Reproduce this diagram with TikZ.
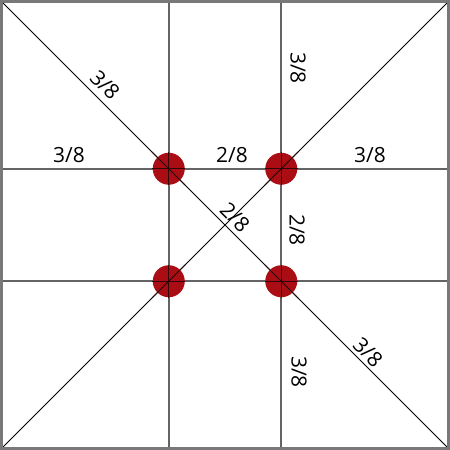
\documentclass[tikz,border=0pt]{standalone}
\usepackage{fontspec}
\setmainfont{Open Sans}
\definecolor{dotred}{RGB}{170,14,20}
\definecolor{gridgray}{RGB}{100,100,100}
\definecolor{framegray}{RGB}{120,120,120}
\begin{document}
\begin{tikzpicture}[x=1bp,y=-1bp,
  gridline/.style={draw=gridgray,line width=1.6bp},
  diagline/.style={draw=black,line width=1bp},
  frameline/.style={draw=framegray,line width=2.6bp},
  dot/.style={circle,fill=dotred,minimum size=32bp,inner sep=0pt},
  lbl/.style={font=\fontsize{21}{22}\selectfont,inner sep=0pt}]
\useasboundingbox (0,0) rectangle (450,450);
% corners
\coordinate (tl) at (0,0);
\coordinate (tr) at (450,0);
\coordinate (bl) at (0,450);
\coordinate (br) at (450,450);
\coordinate (t1) at (168.75,0);
\coordinate (t2) at (281.25,0);
\coordinate (b1) at (168.75,450);
\coordinate (b2) at (281.25,450);
\coordinate (l1) at (0,168.75);
\coordinate (l2) at (0,281.25);
\coordinate (r1) at (450,168.75);
\coordinate (r2) at (450,281.25);
% grid
\draw[gridline] (t1) -- (b1);
\draw[gridline] (t2) -- (b2);
\draw[gridline] (l1) -- (r1);
\draw[gridline] (l2) -- (r2);
% diagonals
\draw[diagline] (tl) -- (br);
\draw[diagline] (tr) -- (bl);
% dots
\node[dot] (d1) at (168.75,168.75) {};
\node[dot] (d2) at (281.25,168.75) {};
\node[dot] (d3) at (168.75,281.25) {};
\node[dot] (d4) at (281.25,281.25) {};
% lines shown faintly through dots
\draw[gridline,draw=black!70!dotred,line width=1.2bp] (168.75,152) -- (168.75,185) (152,168.75) -- (185,168.75);
\draw[gridline,draw=black!70!dotred,line width=1.2bp] (281.25,152) -- (281.25,185) (265,168.75) -- (298,168.75);
\draw[gridline,draw=black!70!dotred,line width=1.2bp] (168.75,265) -- (168.75,298) (152,281.25) -- (185,281.25);
\draw[gridline,draw=black!70!dotred,line width=1.2bp] (281.25,265) -- (281.25,298) (265,281.25) -- (298,281.25);
\draw[diagline,draw=black!80!dotred] (152,152) -- (185,185) (265,265) -- (298,298);
\draw[diagline,draw=black!80!dotred] (298,152) -- (265,185) (185,265) -- (152,298);
% labels
\node[lbl] (h1) at (69,155) {3/8};
\node[lbl] (h2) at (232,155) {2/8};
\node[lbl] (h3) at (370,155) {3/8};
\node[lbl,rotate=-90] (v1) at (298,68) {3/8};
\node[lbl,rotate=-90] (v2) at (297,230) {2/8};
\node[lbl,rotate=-90] (v3) at (299,372) {3/8};
\node[lbl,rotate=-45] (g1) at (105,85) {3/8};
\node[lbl,rotate=-45] (g2) at (235,217) {2/8};
\node[lbl,rotate=-45] (g3) at (368,352) {3/8};
% frame
\draw[frameline] (1.3,1.3) rectangle (448.7,448.7);
\end{tikzpicture}
\end{document}
